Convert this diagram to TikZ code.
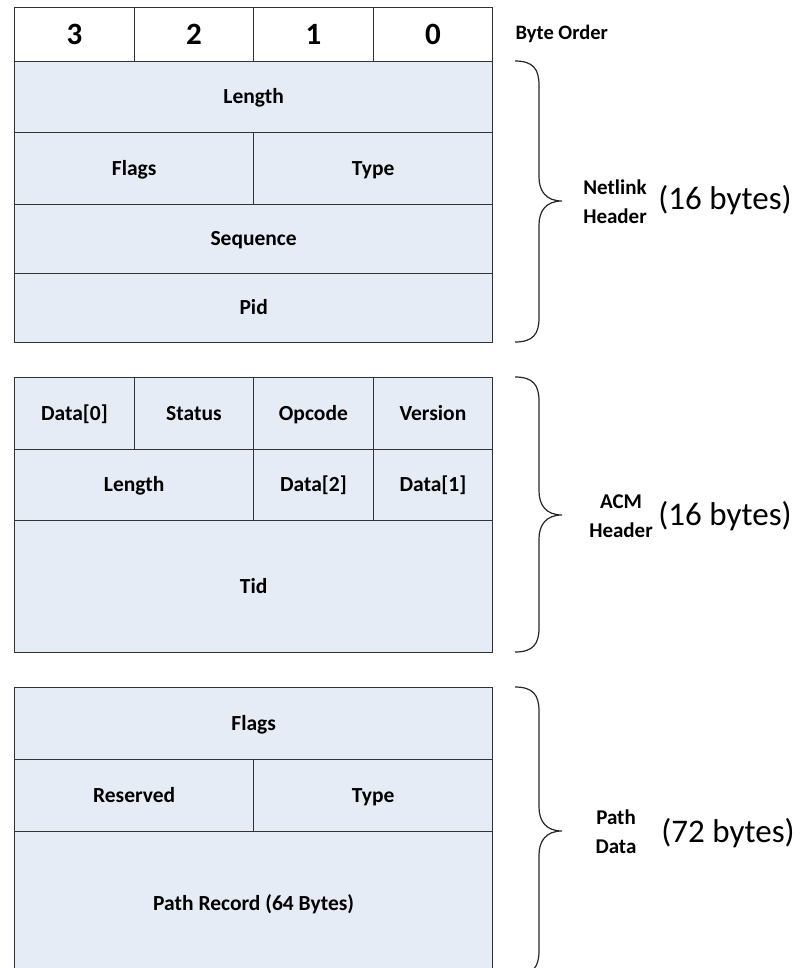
\documentclass[tikz,border=0pt]{standalone}
\usepackage{fontspec}
\setmainfont{Carlito}
\definecolor{cellfill}{RGB}{230,236,246}
\definecolor{cellline}{RGB}{50,50,50}
\tikzset{
  cell/.style={draw=cellline, line width=1.3pt, fill=cellfill, anchor=north west,
    inner sep=0pt, text height=13.5pt, text depth=0pt,
    font=\fontsize{21.5}{24}\selectfont\bfseries},
  bytecell/.style={cell, fill=white, text height=19.6pt,
    font=\fontsize{31}{34}\selectfont\bfseries},
  grouplabel/.style={align=center, font=\fontsize{21}{29}\selectfont\bfseries},
  sizelabel/.style={font=\fontsize{33}{38}\selectfont},
  bracket/.style={draw=black!85, line width=1.2pt}
}
% cell with its top-left corner at (#3), width #4 and height #5
\newcommand{\fieldcell}[7][cell]{%
  \node[#1, minimum width=#4pt, minimum height=#5pt] (#2) at (#3) {#6#7};}
% curly bracket from top y #1 to bottom y #2, tip at y #3
\newcommand{\curly}[4]{%
  \draw[bracket] (515,#1) .. controls (533,#1) and (539,#1+8) .. (539,#1+24)
    -- (539,#3-24) .. controls (539,#3-10) and (546,#3) .. (562,#3)
    .. controls (546,#3) and (539,#3+10) .. (539,#3+24)
    -- (539,#2-24) .. controls (539,#2-8) and (533,#2) .. (515,#2);
  \coordinate (#4) at (562,#3);}
\begin{document}
\begin{tikzpicture}[x=1pt, y=-1pt]
\useasboundingbox (0,0) rectangle (802,968);
\clip (0,0) rectangle (802,968);

% byte order row
\fieldcell[bytecell]{b3}{14,7}{119.5}{54}{}{3}
\fieldcell[bytecell]{b2}{133.5,7}{119.5}{54}{}{2}
\fieldcell[bytecell]{b1}{253,7}{119.5}{54}{}{1}
\fieldcell[bytecell]{b0}{372.5,7}{119.5}{54}{}{0}
\node[anchor=west, font=\fontsize{20.5}{24}\selectfont\bfseries] (order) at (512,34) {Byte Order};

% netlink header
\fieldcell{nlen}{14,61}{478}{71}{}{Length}
\fieldcell{nflags}{14,132}{239}{72}{}{Flags}
\fieldcell{ntype}{253,132}{239}{72}{}{Type}
\fieldcell{nseq}{14,204}{478}{69}{}{Sequence}
\fieldcell{npid}{14,273}{478}{69}{}{Pid}

% acm header
\fieldcell{ad0}{14,377}{119.5}{72}{}{Data[0]}
\fieldcell{astat}{133.5,377}{119.5}{72}{}{Status}
\fieldcell{aop}{253,377}{119.5}{72}{}{Opcode}
\fieldcell{aver}{372.5,377}{119.5}{72}{}{Version}
\fieldcell{alen}{14,449}{239}{71}{}{Length}
\fieldcell{ad2}{253,449}{119.5}{71}{}{Data[2]}
\fieldcell{ad1}{372.5,449}{119.5}{71}{}{Data[1]}
\fieldcell{atid}{14,520}{478}{132}{}{Tid}

% path data
\fieldcell{pflags}{14,687}{478}{72}{}{Flags}
\fieldcell{pres}{14,759}{239}{72}{}{Reserved}
\fieldcell{ptype}{253,759}{239}{72}{}{Type}
\fieldcell{prec}{14,831}{478}{144}{}{Path Record (64 Bytes)}

% group brackets and labels
\curly{61}{342}{201}{tipA}
\curly{377}{652}{515}{tipB}
\curly{687}{975}{831}{tipC}

\node[grouplabel] (lblA) at (615,202) {Netlink\\Header};
\node[sizelabel] (sizeA) at (725,200) {(16 bytes)};
\node[grouplabel] (lblB) at (621,516) {ACM\\Header};
\node[sizelabel] (sizeB) at (725,516) {(16 bytes)};
\node[grouplabel] (lblC) at (616,832) {Path\\Data};
\node[sizelabel] (sizeC) at (728,833) {(72 bytes)};
\end{tikzpicture}
\end{document}
